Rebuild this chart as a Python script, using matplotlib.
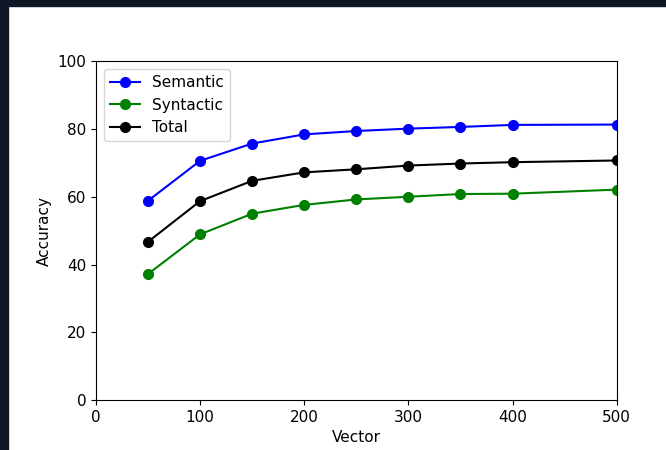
import matplotlib
matplotlib.use("Agg")
import matplotlib.pyplot as plt
from matplotlib.patches import Rectangle

vector = [50, 100, 150, 200, 250, 300, 350, 400, 500]
semantic = [58.8, 70.6, 75.7, 78.4, 79.4, 80.1, 80.6, 81.2, 81.3]
syntactic = [37.2, 48.9, 55.0, 57.6, 59.2, 60.0, 60.8, 60.9, 62.1]
total = [46.7, 58.7, 64.7, 67.2, 68.1, 69.2, 69.8, 70.2, 70.7]

plt.rcParams["font.size"] = 11

fig = plt.figure(figsize=(6.66, 4.5), dpi=100)
ax = fig.add_axes([0.144, 0.111, 0.782, 0.753])

# dark frame of the screenshot (top and left edges)
fig.patches.append(Rectangle((0, 1 - 6 / 450), 1, 6 / 450, transform=fig.transFigure,
                             color="#0f1626", zorder=0))
fig.patches.append(Rectangle((0, 0), 8 / 666, 1, transform=fig.transFigure,
                             color="#0f1626", zorder=0))

ax.plot(vector, semantic, "b-o", label="Semantic", markersize=7, linewidth=1.5)
ax.plot(vector, syntactic, "g-o", label="Syntactic", markersize=7, linewidth=1.5)
ax.plot(vector, total, "k-o", label="Total", markersize=7, linewidth=1.5)

ax.set_xlim(0, 500)
ax.set_ylim(0, 100)
ax.set_xlabel("Vector")
ax.set_ylabel("Accuracy")
ax.legend(loc="upper left")

fig.savefig("out.png", dpi=100)
